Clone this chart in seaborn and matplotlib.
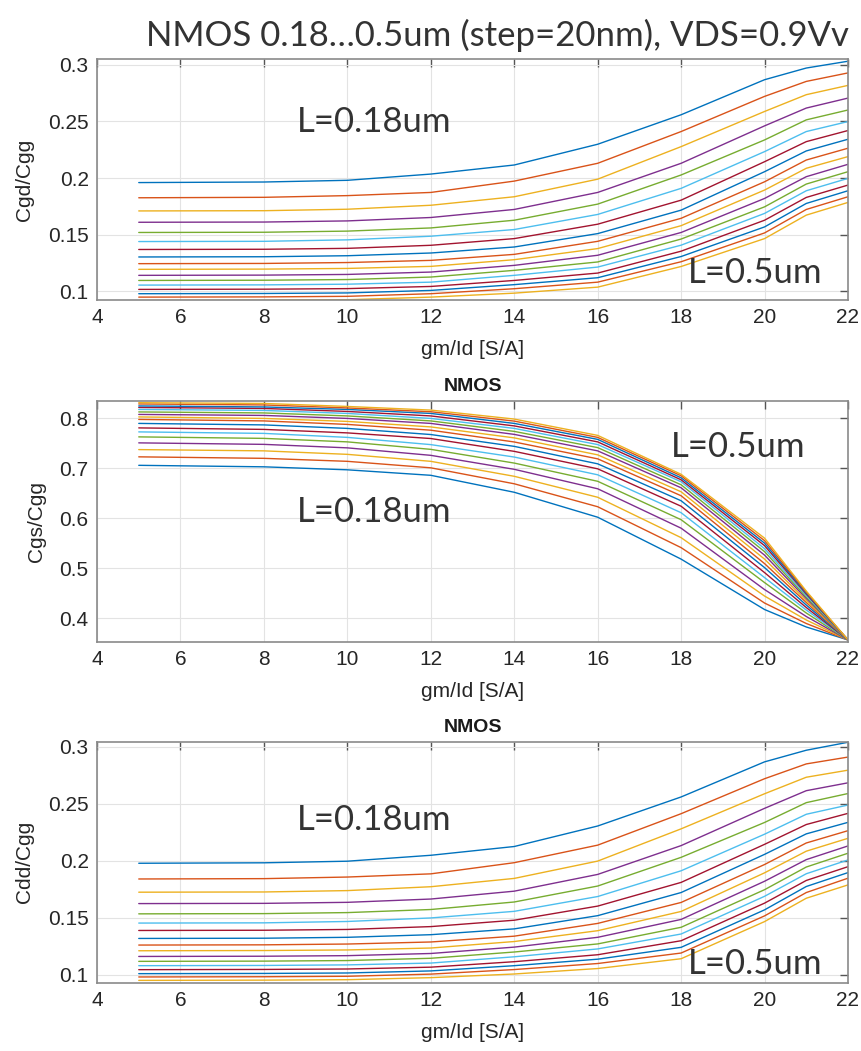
import matplotlib
matplotlib.use("Agg")
import matplotlib.pyplot as plt
import seaborn as sns
import numpy as np
import pandas as pd

# gm/Id sample points [S/A]
gm_id = [5, 8, 10, 12, 14, 16, 18, 20, 21, 22]
# channel lengths 0.18 ... 0.5 um, step 20 nm
lengths = [0.18, 0.20, 0.22, 0.24, 0.26, 0.28, 0.30, 0.32, 0.34,
           0.36, 0.38, 0.40, 0.42, 0.44, 0.46, 0.48, 0.50]

# Cgd/Cgg, one row per length
cgd = [
    [0.1960, 0.1965, 0.1980, 0.2035, 0.2115, 0.2298, 0.2558, 0.2867, 0.2970, 0.3030],
    [0.1826, 0.1830, 0.1845, 0.1873, 0.1973, 0.2130, 0.2410, 0.2720, 0.2852, 0.2927],
    [0.1710, 0.1712, 0.1725, 0.1760, 0.1835, 0.1990, 0.2277, 0.2587, 0.2735, 0.2817],
    [0.1610, 0.1612, 0.1622, 0.1652, 0.1723, 0.1873, 0.2130, 0.2460, 0.2617, 0.2705],
    [0.1520, 0.1522, 0.1532, 0.1560, 0.1628, 0.1770, 0.2027, 0.2336, 0.2513, 0.2600],
    [0.1440, 0.1442, 0.1455, 0.1487, 0.1546, 0.1679, 0.1909, 0.2233, 0.2410, 0.2498],
    [0.1370, 0.1372, 0.1380, 0.1407, 0.1466, 0.1593, 0.1805, 0.2144, 0.2321, 0.2419],
    [0.1304, 0.1306, 0.1315, 0.1339, 0.1392, 0.1510, 0.1717, 0.2056, 0.2239, 0.2342],
    [0.1245, 0.1247, 0.1255, 0.1274, 0.1327, 0.1442, 0.1645, 0.1967, 0.2159, 0.2263],
    [0.1195, 0.1197, 0.1203, 0.1221, 0.1280, 0.1378, 0.1580, 0.1894, 0.2086, 0.2189],
    [0.1142, 0.1144, 0.1150, 0.1171, 0.1230, 0.1319, 0.1520, 0.1820, 0.2012, 0.2121],
    [0.1097, 0.1099, 0.1105, 0.1127, 0.1186, 0.1260, 0.1462, 0.1746, 0.1947, 0.2056],
    [0.1056, 0.1058, 0.1064, 0.1082, 0.1142, 0.1215, 0.1408, 0.1688, 0.1888, 0.1997],
    [0.1018, 0.1020, 0.1025, 0.1044, 0.1097, 0.1162, 0.1355, 0.1628, 0.1829, 0.1938],
    [0.0980, 0.0982, 0.0987, 0.1009, 0.1060, 0.1121, 0.1308, 0.1569, 0.1776, 0.1888],
    [0.0950, 0.0952, 0.0957, 0.0980, 0.1024, 0.1082, 0.1262, 0.1516, 0.1723, 0.1835],
    [0.0920, 0.0922, 0.0927, 0.0950, 0.0985, 0.1038, 0.1220, 0.1466, 0.1673, 0.1785],
]

# Cgs/Cgg
cgs = [
    [0.706, 0.703, 0.697, 0.686, 0.652, 0.602, 0.518, 0.417, 0.382, 0.356],
    [0.723, 0.720, 0.714, 0.701, 0.669, 0.623, 0.541, 0.430, 0.389, 0.356],
    [0.7375, 0.735, 0.728, 0.714, 0.684, 0.642, 0.561, 0.444, 0.396, 0.356],
    [0.751, 0.748, 0.741, 0.726, 0.698, 0.659, 0.580, 0.457, 0.403, 0.356],
    [0.763, 0.760, 0.753, 0.738, 0.7105, 0.674, 0.597, 0.471, 0.410, 0.356],
    [0.773, 0.770, 0.762, 0.7475, 0.7226, 0.687, 0.611, 0.481, 0.416, 0.356],
    [0.781, 0.778, 0.771, 0.7597, 0.734, 0.699, 0.624, 0.491, 0.421, 0.356],
    [0.790, 0.787, 0.780, 0.7677, 0.744, 0.709, 0.635, 0.501, 0.426, 0.356],
    [0.798, 0.795, 0.788, 0.7764, 0.7528, 0.719, 0.645, 0.509, 0.431, 0.356],
    [0.803, 0.800, 0.794, 0.783, 0.761, 0.727, 0.653, 0.518, 0.435, 0.356],
    [0.808, 0.806, 0.800, 0.790, 0.768, 0.735, 0.661, 0.526, 0.439, 0.356],
    [0.813, 0.811, 0.805, 0.795, 0.774, 0.7415, 0.667, 0.533, 0.442, 0.356],
    [0.818, 0.816, 0.810, 0.800, 0.780, 0.7476, 0.673, 0.539, 0.445, 0.356],
    [0.822, 0.820, 0.814, 0.805, 0.785, 0.753, 0.677, 0.545, 0.448, 0.356],
    [0.825, 0.823, 0.818, 0.810, 0.790, 0.758, 0.681, 0.550, 0.450, 0.356],
    [0.829, 0.827, 0.821, 0.8134, 0.7946, 0.762, 0.685, 0.555, 0.452, 0.356],
    [0.8315, 0.830, 0.824, 0.8167, 0.7987, 0.766, 0.688, 0.560, 0.454, 0.356],
]

# Cdd/Cgg
cdd = [
    [0.1978, 0.1982, 0.1996, 0.2048, 0.2125, 0.2305, 0.2560, 0.2868, 0.2970, 0.3040],
    [0.1840, 0.1843, 0.1857, 0.1885, 0.1983, 0.2137, 0.2413, 0.2720, 0.2850, 0.2910],
    [0.1724, 0.1726, 0.1738, 0.1772, 0.1845, 0.1997, 0.2280, 0.2588, 0.2733, 0.2795],
    [0.1624, 0.1626, 0.1635, 0.1664, 0.1733, 0.1880, 0.2133, 0.2460, 0.2615, 0.2684],
    [0.1534, 0.1536, 0.1545, 0.1572, 0.1638, 0.1778, 0.2030, 0.2336, 0.2510, 0.2590],
    [0.1453, 0.1455, 0.1467, 0.1498, 0.1556, 0.1686, 0.1912, 0.2233, 0.2408, 0.2489],
    [0.1388, 0.1390, 0.1397, 0.1422, 0.1478, 0.1602, 0.1810, 0.2144, 0.2318, 0.2416],
    [0.1318, 0.1320, 0.1328, 0.1351, 0.1402, 0.1518, 0.1721, 0.2056, 0.2236, 0.2337],
    [0.1260, 0.1262, 0.1269, 0.1287, 0.1338, 0.1450, 0.1634, 0.1967, 0.2156, 0.2264],
    [0.1210, 0.1212, 0.1217, 0.1234, 0.1291, 0.1386, 0.1555, 0.1894, 0.2084, 0.2197],
    [0.1160, 0.1162, 0.1167, 0.1186, 0.1242, 0.1328, 0.1485, 0.1820, 0.2010, 0.2130],
    [0.1117, 0.1119, 0.1124, 0.1144, 0.1199, 0.1270, 0.1416, 0.1746, 0.1945, 0.2066],
    [0.1079, 0.1081, 0.1086, 0.1102, 0.1157, 0.1226, 0.1357, 0.1688, 0.1886, 0.2007],
    [0.1044, 0.1046, 0.1050, 0.1066, 0.1114, 0.1175, 0.1298, 0.1628, 0.1827, 0.1948],
    [0.1009, 0.1011, 0.1015, 0.1033, 0.1079, 0.1136, 0.1240, 0.1569, 0.1774, 0.1896],
    [0.0980, 0.0982, 0.0986, 0.1005, 0.1045, 0.1098, 0.1190, 0.1516, 0.1721, 0.1847],
    [0.0950, 0.0952, 0.0956, 0.0974, 0.1006, 0.1054, 0.1140, 0.1466, 0.1671, 0.1788],
]

matlab_colors = ["#0072BD", "#D95319", "#EDB120", "#7E2F8E",
                 "#77AC30", "#4DBEEE", "#A2142F"]


def to_long(values):
    rows = []
    for L, curve in zip(lengths, values):
        for x, y in zip(gm_id, curve):
            rows.append({"gm_id": x, "val": y, "L": f"{L:.2f}"})
    return pd.DataFrame(rows)


sns.set_theme(style="whitegrid")
plt.rcParams["font.family"] = ["Liberation Sans", "DejaVu Sans"]

palette = [matlab_colors[i % 7] for i in range(len(lengths))]

fig = plt.figure(figsize=(8.61, 10.51), dpi=100)

panels = [
    (cgd, "Cgd/Cgg", (0.0925, 0.305), [0.1, 0.15, 0.2, 0.25, 0.3],
     [0.1127, 0.7146, 0.8722, 0.2293], None,
     (8.8, 0.249, 18.15, 0.1165)),
    (cgs, "Cgs/Cgg", (0.352, 0.835), [0.4, 0.5, 0.6, 0.7, 0.8],
     [0.1127, 0.3892, 0.8722, 0.2293], "NMOS",
     (8.8, 0.613, 17.75, 0.742)),
    (cdd, "Cdd/Cgg", (0.0927, 0.3045), [0.1, 0.15, 0.2, 0.25, 0.3],
     [0.1127, 0.0647, 0.8722, 0.2296], "NMOS",
     (8.8, 0.236, 18.15, 0.109)),
]

for values, ylabel, ylim, yticks, rect, title, ann in panels:
    ax = fig.add_axes(rect)
    df = to_long(values)
    sns.lineplot(data=df, x="gm_id", y="val", hue="L", palette=palette,
                 linewidth=1.0, legend=False, ax=ax, sort=True)
    ax.set_xlim(4, 22)
    ax.set_ylim(*ylim)
    ax.set_xticks(range(4, 23, 2))
    ax.set_yticks(yticks)
    ax.set_yticklabels([f"{t:g}" for t in yticks])
    ax.set_xlabel("gm/Id [S/A]", fontsize=15, color="#262626", labelpad=9)
    ax.set_ylabel(ylabel, fontsize=15, color="#262626", labelpad=10)
    ax.grid(True, color="#e3e3e3", linewidth=0.8)
    ax.set_facecolor("white")
    for sp in ax.spines.values():
        sp.set_color("#8a8a8a")
        sp.set_linewidth(1.2)
    ax.tick_params(direction="in", top=True, right=True, length=6,
                   width=1.0, color="#555555", labelsize=15,
                   labelcolor="#262626", pad=6)
    if title:
        ax.set_title(title, fontsize=14, fontweight="bold", pad=7,
                     color="#1a1a1a")
    x1, y1, x2, y2 = ann
    ax.text(x1, y1, "L=0.18um", fontsize=25, family="Lato",
            va="center", ha="left", color="#333333")
    ax.text(x2, y2, "L=0.5um", fontsize=25, family="Lato",
            va="center", ha="left", color="#333333")

fig.text(0.578, 0.966, "NMOS 0.18\u20260.5um (step=20nm), VDS=0.9Vv",
         fontsize=25, family="Lato", ha="center",
         va="center", color="#333333")

fig.savefig("out.png", dpi=100)
